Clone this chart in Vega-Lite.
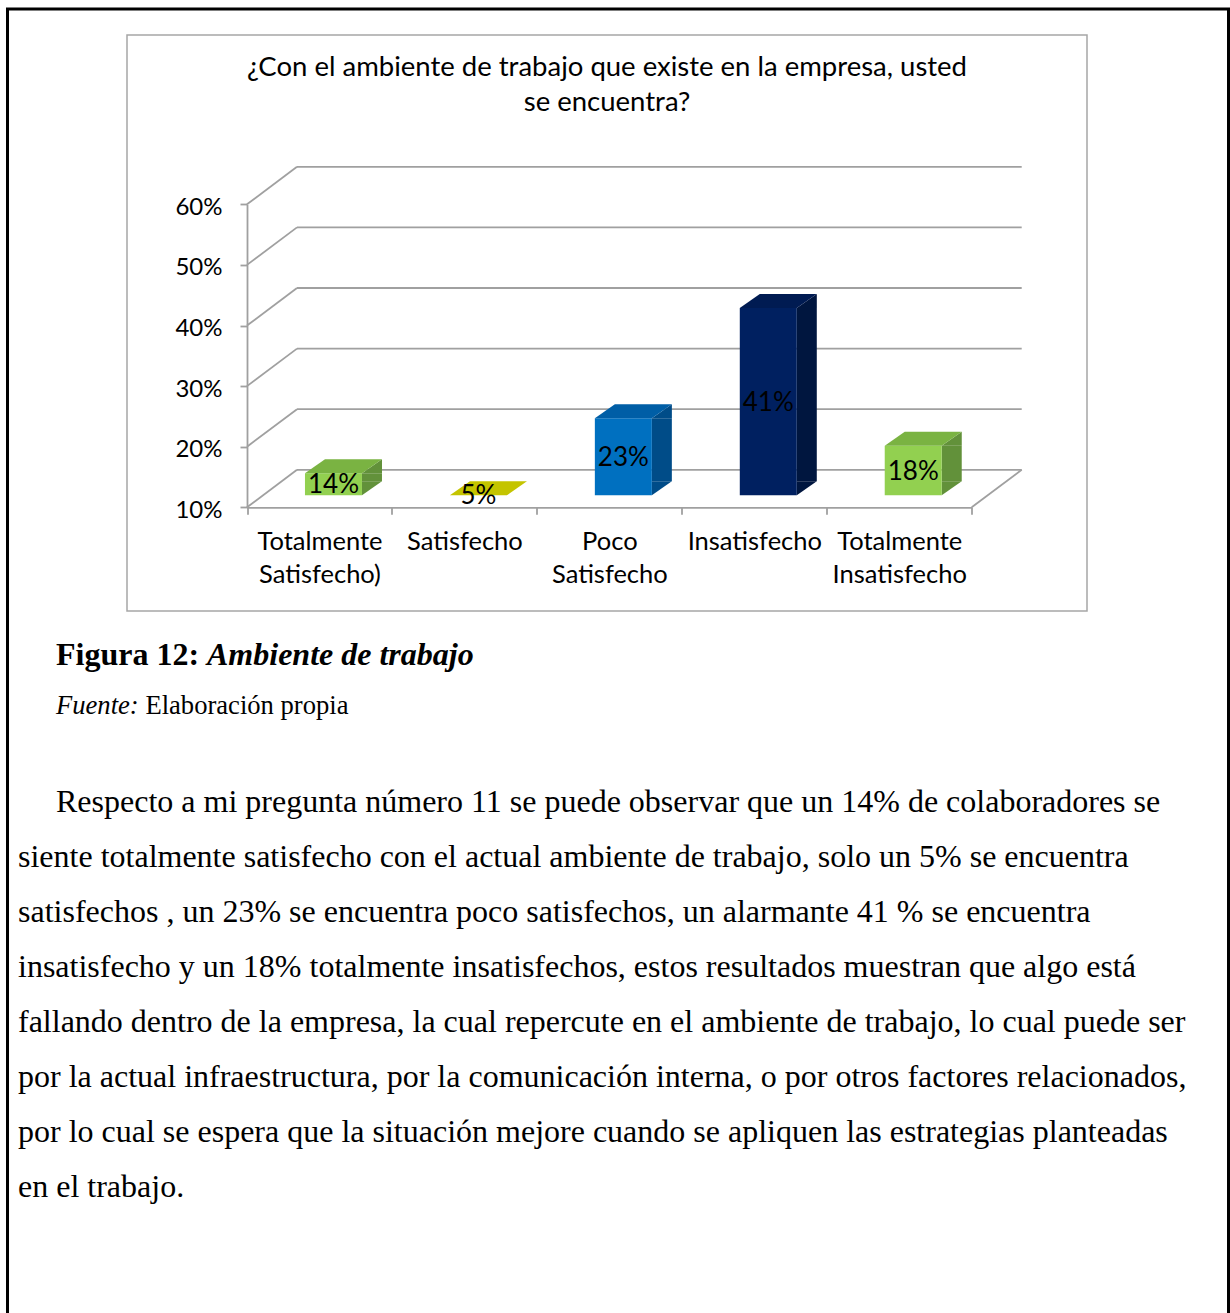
{
  "$schema": "https://vega.github.io/schema/vega-lite/v6.json",
  "width": 1221,
  "height": 1310,
  "autosize": {"type": "none"},
  "padding": {"left": 7.5, "top": 9, "right": 1.5, "bottom": -6},
  "background": "white",
  "config": {"view": {"stroke": "#000000", "strokeWidth": 3}},
  "datasets": {
    "bars": [
      {"cat": "Totalmente Satisfecho)", "value": 0.13636},
      {"cat": "Satisfecho", "value": 0.04545},
      {"cat": "Poco Satisfecho", "value": 0.22727},
      {"cat": "Insatisfecho", "value": 0.40909},
      {"cat": "Totalmente Insatisfecho", "value": 0.18182}
    ],
    "grid": [{"v": 0.1}, {"v": 0.2}, {"v": 0.3}, {"v": 0.4}, {"v": 0.5}, {"v": 0.6}],
    "title": [
      {"row": "t1", "text": "¿Con el ambiente de trabajo que existe en la empresa, usted"},
      {"row": "t2", "text": "se encuentra?"}
    ],
    "caption": [
      {"row": "cap", "part": "cap_a", "text": "Figura 12:"},
      {"row": "cap", "part": "cap_b", "text": "Ambiente de trabajo"},
      {"row": "src", "part": "src_a", "text": "Fuente:"},
      {"row": "src", "part": "src_b", "text": "Elaboración propia"}
    ],
    "para": [
      {"row": "p1", "text": "Respecto a mi pregunta número 11 se puede observar que un 14% de colaboradores se"},
      {"row": "p2", "text": "siente totalmente satisfecho con el actual ambiente de trabajo, solo un 5%  se encuentra"},
      {"row": "p3", "text": "satisfechos , un 23%  se encuentra poco satisfechos, un alarmante 41 % se encuentra"},
      {"row": "p4", "text": "insatisfecho y un 18% totalmente insatisfechos, estos resultados muestran que algo está"},
      {"row": "p5", "text": "fallando dentro de la empresa, la cual repercute en el ambiente de trabajo, lo cual puede ser"},
      {"row": "p6", "text": "por la actual infraestructura, por la comunicación interna, o por otros factores relacionados,"},
      {"row": "p7", "text": "por lo cual se espera que la situación mejore cuando se apliquen las estrategias  planteadas"},
      {"row": "p8", "text": "en el trabajo."}
    ]
  },
  "layer": [
    {
      "data": {"values": [{}]},
      "mark": {"type": "rect", "fill": "transparent", "stroke": "#a6a6a6", "strokeWidth": 1.5},
      "encoding": {
        "x": {"datum": 0, "type": "quantitative", "scale": {"domain": [0, 1], "range": [119.5, 1079.5]}, "axis": null},
        "x2": {"datum": 1},
        "y": {"datum": 0, "type": "quantitative", "scale": {"domain": [0, 1], "range": [26, 602]}, "axis": null},
        "y2": {"datum": 1}
      }
    },
    {
      "data": {"name": "title"},
      "mark": {"type": "text", "font": "Lato", "fontSize": 27.5, "align": "center", "baseline": "alphabetic", "color": "#000000"},
      "encoding": {
        "x": {"datum": 0.5, "type": "quantitative", "scale": {"domain": [0, 1], "range": [119.5, 1079.5]}, "axis": null},
        "y": {"field": "row", "type": "ordinal", "scale": {"type": "point", "domain": ["t1", "t2"], "range": [67, 102], "padding": 0}, "axis": null},
        "text": {"field": "text"}
      }
    },
    {
      "data": {"name": "bars"},
      "mark": {"type": "point", "opacity": 0},
      "encoding": {
        "x": {"field": "cat", "type": "nominal", "sort": null,
          "scale": {"type": "band", "domain": ["Totalmente Satisfecho)", "Satisfecho", "Poco Satisfecho", "Insatisfecho", "Totalmente Insatisfecho"], "range": [239.5, 964.2], "paddingInner": 0, "paddingOuter": 0},
          "axis": {"orient": "bottom", "offset": -811.7, "title": null, "labelAngle": 0, "tickBand": "extent",
            "domainColor": "#a0a0a0", "domainWidth": 1.8, "tickColor": "#a0a0a0", "tickWidth": 1.8, "tickSize": 7,
            "labelFont": "Lato", "labelFontSize": 25.5, "labelColor": "#000000", "labelPadding": 15,
            "labelExpr": "split(datum.label, ' ')", "labelLineHeight": 33, "labelBaseline": "top"}},
        "y": {"field": "value", "type": "quantitative",
          "scale": {"domain": [0.1, 0.6], "range": [498.3, 195.3], "clamp": true, "nice": false, "zero": false},
          "axis": {"orient": "left", "offset": -239.5, "title": null, "values": [0.1, 0.2, 0.3, 0.4, 0.5, 0.6], "format": ".0%", "grid": false,
            "domainColor": "#a0a0a0", "domainWidth": 1.8, "tickColor": "#a0a0a0", "tickWidth": 1.8, "tickSize": 7,
            "labelFont": "Lato", "labelFontSize": 24, "labelColor": "#000000", "labelPadding": 18, "labelOffset": 3}}
      }
    },
    {
      "layer": [
        {
          "data": {"name": "grid"},
          "mark": {"type": "rule", "color": "#a0a0a0", "strokeWidth": 1.8, "xOffset": 50, "x2Offset": 50, "yOffset": -37.5},
          "encoding": {
            "x": {"datum": "Totalmente Satisfecho)", "bandPosition": 0, "axis": null},
            "x2": {"datum": "Totalmente Insatisfecho", "bandPosition": 1},
            "y": {"field": "v", "type": "quantitative", "axis": null}
          }
        },
        {
          "data": {"name": "grid"},
          "mark": {"type": "rule", "color": "#a0a0a0", "strokeWidth": 1.8, "x2Offset": 50, "y2Offset": -37.5},
          "encoding": {
            "x": {"datum": "Totalmente Satisfecho)", "bandPosition": 0, "axis": null},
            "x2": {"datum": "Totalmente Satisfecho)", "bandPosition": 0},
            "y": {"field": "v", "type": "quantitative", "axis": null},
            "y2": {"field": "v"}
          }
        },
        {
          "data": {"values": [{}]},
          "mark": {"type": "rule", "color": "#a0a0a0", "strokeWidth": 1.8, "x2Offset": 50, "y2Offset": -37.5},
          "encoding": {
            "x": {"datum": "Totalmente Insatisfecho", "bandPosition": 1, "axis": null},
            "x2": {"datum": "Totalmente Insatisfecho", "bandPosition": 1},
            "y": {"datum": 0.1, "axis": null},
            "y2": {"datum": 0.1}
          }
        },
        {
          "data": {"name": "bars"},
          "transform": [{"filter": "datum.value >= 0.1"}],
          "mark": {"type": "point", "shape": "M0.285,-0.14 L0.285,0 L0.485,-0.14 Z", "size": 40000, "filled": true, "opacity": 1, "strokeWidth": 0, "xOffset": 14, "yOffset": -12},
          "encoding": {
            "x": {"field": "cat", "type": "nominal", "sort": null, "axis": null},
            "y": {"datum": 0.1, "axis": null},
            "color": {"field": "cat", "type": "nominal", "sort": null, "legend": null,
              "scale": {"domain": ["Totalmente Satisfecho)", "Satisfecho", "Poco Satisfecho", "Insatisfecho", "Totalmente Insatisfecho"],
                        "range": ["#62913a", "#9c9c00", "#004c88", "#00163f", "#62913a"]}}
          }
        },
        {
          "data": {"name": "bars"},
          "transform": [{"filter": "datum.value >= 0.1"}],
          "mark": {"type": "bar", "width": 20, "xOffset": 52.5, "yOffset": -12, "y2Offset": -26},
          "encoding": {
            "x": {"field": "cat", "type": "nominal", "sort": null, "axis": null},
            "y": {"field": "value", "type": "quantitative", "axis": null},
            "y2": {"datum": 0.1},
            "color": {"field": "cat", "type": "nominal", "sort": null, "legend": null,
              "scale": {"domain": ["Totalmente Satisfecho)", "Satisfecho", "Poco Satisfecho", "Insatisfecho", "Totalmente Insatisfecho"],
                        "range": ["#62913a", "#9c9c00", "#004c88", "#00163f", "#62913a"]}}
          }
        },
        {
          "data": {"name": "bars"},
          "transform": [{"filter": "datum.value >= 0.1"}],
          "mark": {"type": "point", "shape": "M0.285,0 L0.485,-0.14 L0.485,0 Z", "size": 40000, "filled": true, "opacity": 1, "strokeWidth": 0, "xOffset": 14, "yOffset": -12},
          "encoding": {
            "x": {"field": "cat", "type": "nominal", "sort": null, "axis": null},
            "y": {"field": "value", "type": "quantitative", "axis": null},
            "color": {"field": "cat", "type": "nominal", "sort": null, "legend": null,
              "scale": {"domain": ["Totalmente Satisfecho)", "Satisfecho", "Poco Satisfecho", "Insatisfecho", "Totalmente Insatisfecho"],
                        "range": ["#62913a", "#9c9c00", "#004c88", "#00163f", "#62913a"]}}
          }
        },
        {
          "data": {"name": "bars"},
          "mark": {"type": "bar", "width": 57, "xOffset": 14, "yOffset": -12, "y2Offset": -12},
          "encoding": {
            "x": {"field": "cat", "type": "nominal", "sort": null,
              "scale": {"type": "band", "domain": ["Totalmente Satisfecho)", "Satisfecho", "Poco Satisfecho", "Insatisfecho", "Totalmente Insatisfecho"], "range": [239.5, 964.2], "paddingInner": 0, "paddingOuter": 0},
              "axis": null},
            "y": {"field": "value", "type": "quantitative",
              "scale": {"domain": [0.1, 0.6], "range": [498.3, 195.3], "clamp": true, "nice": false, "zero": false},
              "axis": null},
            "y2": {"datum": 0.1},
            "color": {"field": "cat", "type": "nominal", "sort": null, "legend": null,
              "scale": {"domain": ["Totalmente Satisfecho)", "Satisfecho", "Poco Satisfecho", "Insatisfecho", "Totalmente Insatisfecho"],
                        "range": ["#92d050", "#c8c800", "#0070c0", "#002060", "#92d050"]}}
          }
        },
        {
          "data": {"name": "bars"},
          "mark": {"type": "point", "shape": "M-0.285,0 L0.285,0 L0.485,-0.14 L-0.085,-0.14 Z", "size": 40000, "filled": true, "opacity": 1, "strokeWidth": 0, "xOffset": 14, "yOffset": -12},
          "encoding": {
            "x": {"field": "cat", "type": "nominal", "sort": null, "axis": null},
            "y": {"field": "value", "type": "quantitative", "axis": null},
            "color": {"field": "cat", "type": "nominal", "sort": null, "legend": null,
              "scale": {"domain": ["Totalmente Satisfecho)", "Satisfecho", "Poco Satisfecho", "Insatisfecho", "Totalmente Insatisfecho"],
                        "range": ["#7ab342", "#c4c400", "#005ea6", "#001b52", "#7ab342"]}}
          }
        }
      ],
      "resolve": {"scale": {"color": "independent"}}
    },
    {
      "data": {"name": "bars"},
      "mark": {"type": "text", "font": "Lato", "fontSize": 26, "align": "center", "baseline": "middle", "xOffset": 14, "yOffset": -11, "color": "#000000"},
      "encoding": {
        "x": {"field": "cat", "type": "nominal", "sort": null,
          "scale": {"type": "band", "domain": ["Totalmente Satisfecho)", "Satisfecho", "Poco Satisfecho", "Insatisfecho", "Totalmente Insatisfecho"], "range": [239.5, 964.2], "paddingInner": 0, "paddingOuter": 0},
          "axis": null},
        "y": {"field": "value", "type": "quantitative", "scale": {"domain": [0.1, 1.1], "range": [498.3, 195.3], "clamp": true, "nice": false, "zero": false}, "axis": null},
        "text": {"field": "value", "type": "quantitative", "format": ".0%"}
      }
    },
    {
      "data": {"name": "caption"},
      "encoding": {
        "x": {"datum": 0, "type": "quantitative", "scale": {"domain": [0, 1], "range": [10.5, 1180.5]}, "axis": null},
        "y": {"field": "row", "type": "ordinal", "scale": {"type": "point", "domain": ["cap", "src"], "range": [656, 705], "padding": 0}, "axis": null},
        "text": {"field": "text"}
      },
      "layer": [
        {"transform": [{"filter": "datum.part === 'cap_a'"}], "mark": {"type": "text", "font": "Liberation Serif", "fontSize": 32, "fontWeight": "bold", "align": "left", "baseline": "alphabetic", "dx": 38, "color": "#000000"}},
        {"transform": [{"filter": "datum.part === 'cap_b'"}], "mark": {"type": "text", "font": "Liberation Serif", "fontSize": 32, "fontWeight": "bold", "fontStyle": "italic", "align": "left", "baseline": "alphabetic", "dx": 189, "color": "#000000"}},
        {"transform": [{"filter": "datum.part === 'src_a'"}], "mark": {"type": "text", "font": "Liberation Serif", "fontSize": 26.6, "fontStyle": "italic", "align": "left", "baseline": "alphabetic", "dx": 38, "color": "#000000"}},
        {"transform": [{"filter": "datum.part === 'src_b'"}], "mark": {"type": "text", "font": "Liberation Serif", "fontSize": 26.6, "align": "left", "baseline": "alphabetic", "dx": 127.4, "color": "#000000"}}
      ]
    },
    {
      "data": {"name": "para"},
      "encoding": {
        "x": {"datum": 0, "type": "quantitative", "scale": {"domain": [0, 1], "range": [10.5, 1180.5]}, "axis": null},
        "y": {"field": "row", "type": "ordinal", "scale": {"type": "point", "domain": ["p1", "p2", "p3", "p4", "p5", "p6", "p7", "p8"], "range": [803, 1188], "padding": 0}, "axis": null},
        "text": {"field": "text"}
      },
      "layer": [
        {"transform": [{"filter": "datum.row === 'p1'"}], "mark": {"type": "text", "font": "Liberation Serif", "fontSize": 32, "align": "left", "baseline": "alphabetic", "dx": 38, "color": "#000000"}},
        {"transform": [{"filter": "datum.row !== 'p1'"}], "mark": {"type": "text", "font": "Liberation Serif", "fontSize": 32, "align": "left", "baseline": "alphabetic", "color": "#000000"}}
      ]
    }
  ],
  "resolve": {"scale": {"x": "independent", "y": "independent", "color": "independent"}}
}
